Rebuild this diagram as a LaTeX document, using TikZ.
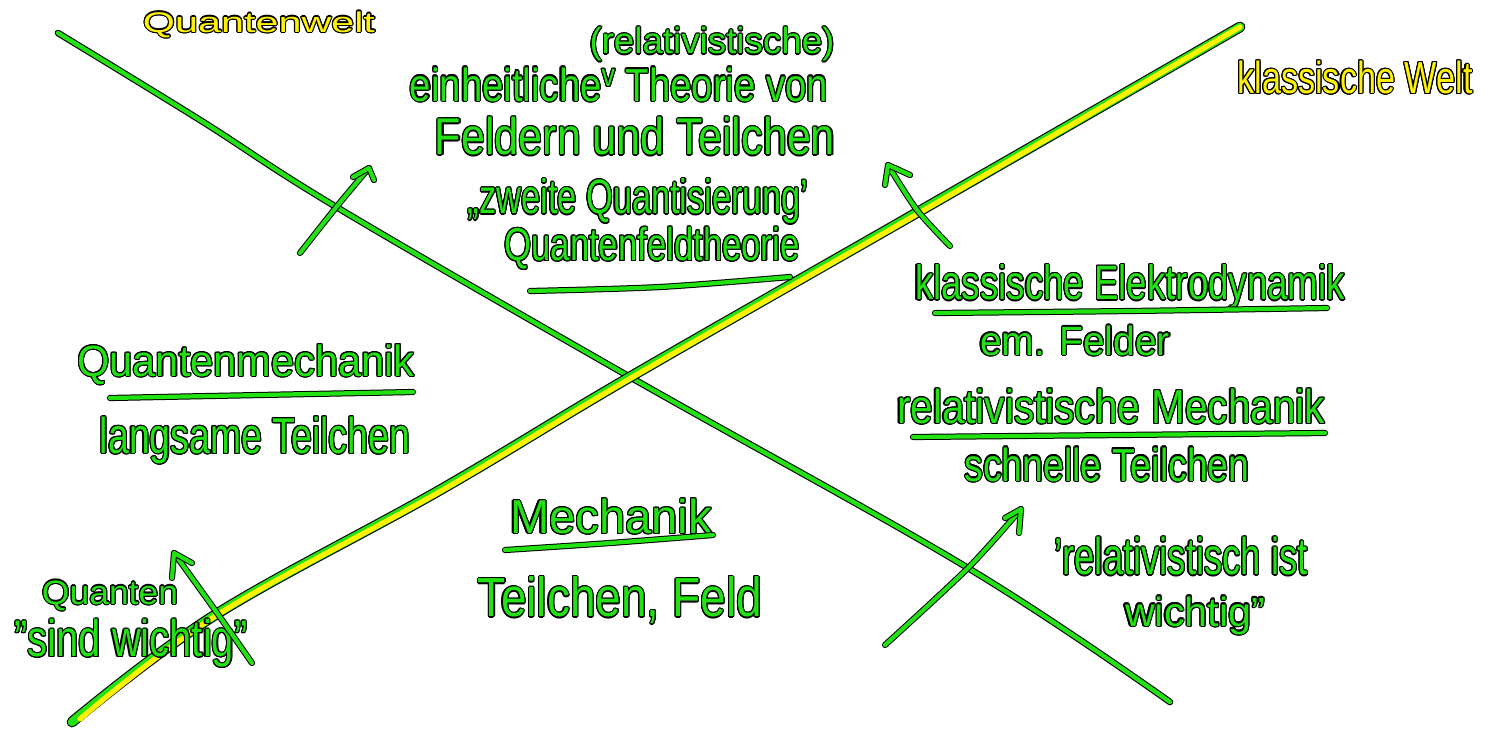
\documentclass[tikz,border=0pt]{standalone}
\usepackage{fontspec}
\setmainfont{Liberation Sans}
\usepackage{graphicx}
\usepackage[copies]{contour}
\contourlength{0.55pt}
\definecolor{hgreen}{RGB}{34,226,20}
\definecolor{hyellow}{RGB}{255,242,0}
\newdimen\pxu \pxu=0.5pt
\newcommand\handtext[4]{\textcolor{#3}{\contour{black}{\resizebox*{#1\pxu}{#2\pxu}{#4}}}}
\tikzset{
  hand/.style={inner sep=0pt, outer sep=0pt},
  penline/.style={draw=black, line width=0.5pt, double=hgreen, double distance=2.1pt, line cap=round, line join=round},
  mainline/.style={draw=black, line width=0.55pt, double=hgreen, double distance=2.2pt, line cap=round, line join=round},
}
\begin{document}
\begin{tikzpicture}[x=0.5pt,y=-0.5pt]
\fill[white] (0,0) rectangle (1493,729);
\useasboundingbox (0,0) rectangle (1493,729);

% main crossing lines
\draw[mainline] plot[smooth, tension=0.6] coordinates {(58,33) (200,120) (338,208) (630,377) (968,568) (1170,702)};
\draw[black, line width=5.4pt, line cap=round, line join=round] plot[smooth, tension=0.6] coordinates {(72,722) (215,615) (440,490) (630,377) (918,212) (1240,27)};
\draw[hgreen, line width=4.3pt, line cap=round, line join=round] plot[smooth, tension=0.6] coordinates {(72,722) (215,615) (440,490) (630,377) (918,212) (1240,27)};
\draw[hyellow, line width=2.6pt, line cap=round, line join=round] plot[smooth, tension=0.6] coordinates {(80,719) (217,615) (441,491) (631,378) (919,213) (1240,27)};

% labels
\node[hand] (qw) at (259,25) {\handtext{232}{26}{hyellow}{Quantenwelt}};
\node[hand] (kw) at (1355,78) {\handtext{235}{33}{hyellow}{klassische Welt}};

\node[hand] (rel) at (712,45) {\handtext{245}{34}{hgreen}{(relativistische)}};
\node[hand] (einh) at (619,85) {\handtext{418}{34}{hgreen}{einheitliche\raisebox{0.6ex}{\scriptsize v} Theorie von}};
\node[hand] (feld) at (635,137) {\handtext{400}{38}{hgreen}{Feldern und Teilchen}};
\node[hand] (zweit) at (638,202) {\handtext{340}{45}{hgreen}{„zweite Quantisierung'}};
\node[hand] (qft) at (652,249) {\handtext{295}{42}{hgreen}{Quantenfeldtheorie}};

\node[hand] (ked) at (1130,288) {\handtext{430}{45}{hgreen}{klassische Elektrodynamik}};
\node[hand] (emf) at (1075,341) {\handtext{190}{30}{hgreen}{em. Felder}};
\node[hand] (relm) at (1111,407) {\handtext{428}{35}{hgreen}{relativistische Mechanik}};
\node[hand] (schn) at (1107,465) {\handtext{285}{34}{hgreen}{schnelle Teilchen}};

\node[hand] (qm) at (246,365) {\handtext{337}{40}{hgreen}{Quantenmechanik}};
\node[hand] (lang) at (255,441) {\handtext{310}{47}{hgreen}{langsame Teilchen}};

\node[hand] (mech) at (611,517) {\handtext{202}{35}{hgreen}{Mechanik}};
\node[hand] (tf) at (620,601) {\handtext{284}{47}{hgreen}{Teilchen, Feld}};

\node[hand] (quan) at (110,596) {\handtext{136}{30}{hgreen}{Quanten}};
\node[hand] (sind) at (131,644) {\handtext{233}{48}{hgreen}{''sind wichtig''}};

\node[hand] (reli) at (1181,557) {\handtext{253}{38}{hgreen}{'relativistisch ist}};
\node[hand] (wich) at (1195,616) {\handtext{140}{38}{hgreen}{wichtig''}};

% underlines
\coordinate (u1a) at (530,291); \coordinate (u1m) at (660,287); \coordinate (u1b) at (790,277);
\draw[penline] plot[smooth] coordinates {(u1a) (u1m) (u1b)};
\coordinate (u2a) at (935,313); \coordinate (u2m) at (1130,311); \coordinate (u2b) at (1327,308);
\draw[penline] plot[smooth] coordinates {(u2a) (u2m) (u2b)};
\coordinate (u3a) at (913,437); \coordinate (u3m) at (1120,435); \coordinate (u3b) at (1325,433);
\draw[penline] plot[smooth] coordinates {(u3a) (u3m) (u3b)};
\coordinate (u4a) at (110,398); \coordinate (u4m) at (260,395); \coordinate (u4b) at (413,392);
\draw[penline] plot[smooth] coordinates {(u4a) (u4m) (u4b)};
\coordinate (u5a) at (505,550); \coordinate (u5m) at (610,543); \coordinate (u5b) at (713,535);
\draw[penline] plot[smooth] coordinates {(u5a) (u5m) (u5b)};

% arrows
\coordinate (a1t) at (300,253); \coordinate (a1m) at (338,205); \coordinate (a1h) at (369,168);
\coordinate (a1l) at (353,177); \coordinate (a1r) at (374,180);
\draw[penline] plot[smooth] coordinates {(a1t) (a1m) (a1h)};
\draw[penline] (a1l) -- (a1h) -- (a1r);

\coordinate (a2t) at (950,246); \coordinate (a2m) at (917,210); \coordinate (a2h) at (888,165);
\coordinate (a2l) at (885,185); \coordinate (a2r) at (910,175);
\draw[penline] plot[smooth] coordinates {(a2t) (a2m) (a2h)};
\draw[penline] (a2l) -- (a2h) -- (a2r);

\coordinate (a3t) at (252,663); \coordinate (a3m) at (215,610); \coordinate (a3h) at (174,553);
\coordinate (a3l) at (172,578); \coordinate (a3r) at (192,563);
\draw[penline] plot[smooth] coordinates {(a3t) (a3m) (a3h)};
\draw[penline] (a3l) -- (a3h) -- (a3r);

\coordinate (a4t) at (885,645); \coordinate (a4m) at (968,568); \coordinate (a4h) at (1021,509);
\coordinate (a4l) at (1005,518); \coordinate (a4r) at (1019,533);
\draw[penline] plot[smooth] coordinates {(a4t) (a4m) (a4h)};
\draw[penline] (a4l) -- (a4h) -- (a4r);
\end{tikzpicture}
\end{document}
